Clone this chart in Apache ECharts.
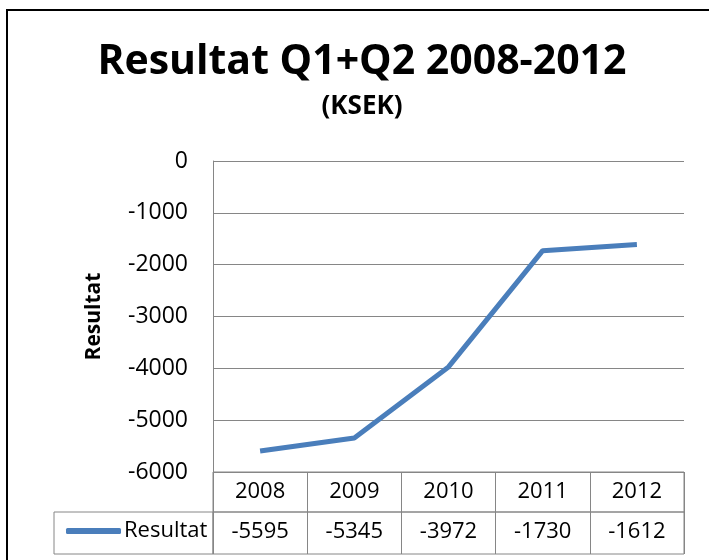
<!DOCTYPE html>
<html><head><meta charset="utf-8">
<script src="https://cdn.jsdelivr.net/npm/echarts@6/dist/echarts.min.js"></script>
<style>html,body{margin:0;padding:0;background:#fff}#c{width:709px;height:560px}</style>
</head><body><div id="c"></div>
<script>
const categories = ['2008','2009','2010','2011','2012'];
const resultat = [-5595, -5345, -3972, -1730, -1612];
const seriesName = 'Resultat';
const yTicks = {min: -6000, max: 0, interval: 1000};

const F = '"Open Sans", sans-serif';
const GRID_COLOR = '#868686';
const chart = echarts.init(document.getElementById('c'), null, {renderer: 'canvas'});
chart.setOption({
  animation: false,
  backgroundColor: '#fff',
  graphic: [{
    type: 'rect', silent: true, z: -1,
    shape: {x: 7, y: 10, width: 760, height: 620},
    style: {fill: 'none', stroke: '#000', lineWidth: 2}
  }],
  title: {
    text: 'Resultat Q1+Q2 2008-2012',
    subtext: '(KSEK)',
    left: 357, top: 35, textAlign: 'center', itemGap: 8,
    textStyle: {fontFamily: F, fontWeight: 'bold', fontSize: 41, color: '#000', lineHeight: 44},
    subtextStyle: {fontFamily: F, fontWeight: 'bold', fontSize: 26, color: '#000', lineHeight: 30}
  },
  legend: {
    left: 61, top: 515, itemWidth: 55, itemHeight: 6, itemGap: 0,
    icon: 'roundRect',
    data: [{name: seriesName, itemStyle: {color: '#4A7EBB'}}],
    textStyle: {fontFamily: F, fontSize: 22, color: '#000', padding: [0,0,0,-2]},
    selectedMode: false
  },
  grid: [
    {left: 213, top: 161, width: 471, height: 311, containLabel: false},
    {left: 213, top: 472, width: 471, height: 40, show: true, borderColor: GRID_COLOR, borderWidth: 1},
    {left: 213, top: 512, width: 471, height: 42, show: true, borderColor: GRID_COLOR, borderWidth: 1},
    {left: 54, top: 512, width: 159, height: 42, show: true, borderColor: GRID_COLOR, borderWidth: 1}
  ],
  xAxis: [
    {gridIndex: 0, type: 'category', data: categories, boundaryGap: true,
     axisLine: {show: false}, axisTick: {show: false}, axisLabel: {show: false}},
    {gridIndex: 1, type: 'category', data: categories, boundaryGap: true, position: 'top',
     axisLine: {show: false}, axisTick: {show: false},
     splitLine: {show: true, lineStyle: {color: GRID_COLOR, width: 1}},
     axisLabel: {inside: true, margin: 9, fontFamily: F, fontSize: 22, color: '#000', verticalAlign: 'top'}},
    {gridIndex: 2, type: 'category', data: categories, boundaryGap: true, position: 'top',
     axisLine: {show: false}, axisTick: {show: false},
     splitLine: {show: true, lineStyle: {color: GRID_COLOR, width: 1}},
     axisLabel: {inside: true, margin: 9, fontFamily: F, fontSize: 22, color: '#000', verticalAlign: 'top',
       formatter: (v, i) => String(resultat[i])}},
    {gridIndex: 3, type: 'category', data: [''], show: false}
  ],
  yAxis: [
    {gridIndex: 0, type: 'value', min: yTicks.min, max: yTicks.max, interval: yTicks.interval,
     name: 'Resultat', nameLocation: 'middle', nameGap: 108, nameRotate: 90,
     nameTextStyle: {fontFamily: F, fontWeight: 'bold', fontSize: 21, color: '#000'},
     axisLine: {show: true, lineStyle: {color: GRID_COLOR, width: 1}},
     axisTick: {show: false},
     splitLine: {show: true, lineStyle: {color: GRID_COLOR, width: 1}},
     axisLabel: {margin: 25, fontFamily: F, fontSize: 23, color: '#000', formatter: v => String(v)}},
    {gridIndex: 1, type: 'value', show: false},
    {gridIndex: 2, type: 'value', show: false},
    {gridIndex: 3, type: 'value', show: false}
  ],
  series: [{
    name: seriesName, type: 'line', xAxisIndex: 0, yAxisIndex: 0,
    data: resultat, symbol: 'none',
    lineStyle: {color: '#4A7EBB', width: 5},
    itemStyle: {color: '#4A7EBB'}
  }]
});
</script></body></html>
